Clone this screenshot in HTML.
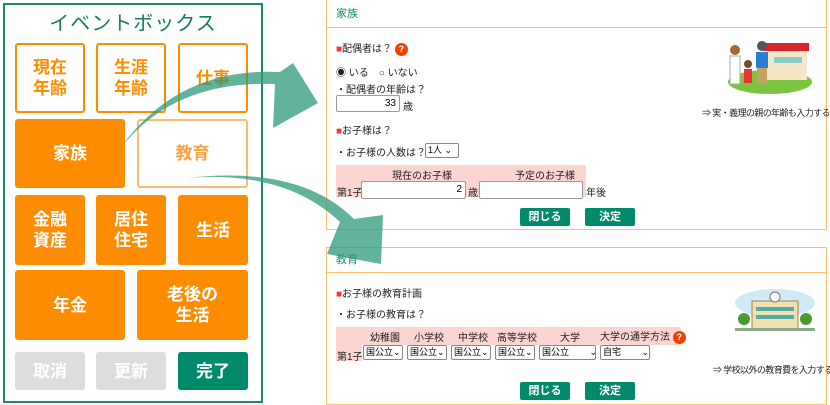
<!DOCTYPE html>
<html><head><meta charset="utf-8"><style>
*{margin:0;padding:0;box-sizing:border-box}
body{width:830px;height:405px;background:#fff;position:relative;overflow:hidden;font-family:"Liberation Sans","Noto Sans CJK JP",sans-serif}
.a{position:absolute}
.b{position:absolute;display:flex;align-items:center;justify-content:center;text-align:center;font-weight:bold;font-size:17px;line-height:21px;border-radius:3px}
.o{background:#fd8c00;color:#fff}
.w{background:#fff;border:2px solid #fd8c00;color:#fd8c00}
.g{background:#ddd;color:#fff}
.t{font-size:10px;color:#222;position:absolute;white-space:nowrap}
.in{position:absolute;border:1px solid #999;border-radius:2px;background:#fff;font-size:10px;text-align:right;padding-right:3px;line-height:15px}
.sel{position:absolute;border:1px solid #888;border-radius:2px;background:#fff;font-size:9px;line-height:13px;padding-left:2px;white-space:nowrap;overflow:hidden}
.btn{position:absolute;background:#00896b;color:#fff;font-size:11px;font-weight:bold;text-align:center;line-height:18px;border-radius:2px;width:50px;height:18px}
.sq{color:#f33}
.q{display:inline-block;width:13px;height:13px;border-radius:50%;background:#f04000;color:#fff;font-size:9px;text-align:center;line-height:13px;font-weight:bold;vertical-align:middle}
.sm{font-size:9px;letter-spacing:-0.6px}
</style></head><body>
<div class="a" style="left:3px;top:3px;width:260px;height:400px;border:2px solid #1f8a6a"></div>
<div class="a" style="left:3px;top:7px;width:260px;text-align:center;font-size:20px;color:#1a7a5e;letter-spacing:1px">イベントボックス</div>
<div class="b w" style="left:15px;top:43px;width:70px;height:70px">現在<br>年齢</div>
<div class="b w" style="left:96px;top:43px;width:70px;height:70px">生涯<br>年齢</div>
<div class="b w" style="left:178px;top:43px;width:70px;height:70px">仕事</div>
<div class="b o" style="left:15px;top:119px;width:110px;height:69px">家族</div>
<div class="b w" style="left:137px;top:119px;width:111px;height:69px;border-color:#fdba70;color:#fba040">教育</div>
<div class="b o" style="left:15px;top:195px;width:70px;height:70px">金融<br>資産</div>
<div class="b o" style="left:96px;top:195px;width:70px;height:70px">居住<br>住宅</div>
<div class="b o" style="left:178px;top:195px;width:70px;height:70px">生活</div>
<div class="b o" style="left:15px;top:270px;width:110px;height:70px">年金</div>
<div class="b o" style="left:137px;top:270px;width:111px;height:70px">老後の<br>生活</div>
<div class="b g" style="left:15px;top:352px;width:70px;height:38px">取消</div>
<div class="b g" style="left:96px;top:352px;width:70px;height:38px">更新</div>
<div class="b" style="left:178px;top:352px;width:70px;height:38px;background:#00896b;color:#fff">完了</div>

<!-- panel 1 -->
<div class="a" style="left:326px;top:-2px;width:501px;height:232px;border:1px solid #fdc070"></div>
<div class="a" style="left:326px;top:27px;width:501px;height:1px;background:#fdc070"></div>
<div class="t" style="left:336px;top:5px;color:#1a8a6a;font-size:11px">家族</div>
<div class="t" style="left:336px;top:40px"><span class="sq">■</span>配偶者は？ <span class="q">?</span></div>
<div class="t" style="left:336px;top:64px">◉ いる　○ いない</div>
<div class="t" style="left:336px;top:81px">・配偶者の年齢は？</div>
<div class="in" style="left:336px;top:95px;width:64px;height:17px">33</div>
<div class="t" style="left:403px;top:98px">歳</div>
<div class="t" style="left:336px;top:122px"><span class="sq">■</span>お子様は？</div>
<div class="t" style="left:336px;top:144px">・お子様の人数は？</div>
<div class="sel" style="left:425px;top:143px;width:34px;height:15px">1人 ⌄</div>
<div class="a" style="left:336px;top:165px;width:250px;height:32px;background:#fdd5d0"></div>
<div class="t" style="left:392px;top:167px">現在のお子様</div>
<div class="t" style="left:515px;top:167px">予定のお子様</div>
<div class="t" style="left:337px;top:184px">第1子</div>
<div class="in" style="left:361px;top:181px;width:105px;height:18px">2</div>
<div class="t" style="left:468px;top:184px">歳</div>
<div class="in" style="left:479px;top:181px;width:104px;height:18px"></div>
<div class="t" style="left:586px;top:184px">年後</div>
<div class="btn" style="left:520px;top:208px">閉じる</div>
<div class="btn" style="left:585px;top:208px">決定</div>
<svg class="a" style="left:700px;top:40px" width="115" height="55">
<ellipse cx="70" cy="42" rx="42" ry="12" fill="#7cc440"/>
<rect x="65" y="8" width="42" height="32" fill="#f6e6c8"/><rect x="63" y="3" width="46" height="8" fill="#d9242b"/>
<rect x="74" y="17" width="28" height="6" fill="#8cc"/>
<circle cx="35" cy="10" r="5" fill="#a86a30"/><rect x="30" y="16" width="10" height="28" fill="#fff" stroke="#aaa"/>
<circle cx="48" cy="24" r="4" fill="#7a4a20"/><rect x="44" y="29" width="8" height="14" fill="#e33"/>
<circle cx="62" cy="6" r="5" fill="#555"/><rect x="56" y="12" width="12" height="16" fill="#2a7ed6"/><rect x="57" y="28" width="10" height="16" fill="#c9a060"/>
</svg>
<div class="t sm" style="left:702px;top:106px">⇒ 実・義理の親の年齢も入力する</div>

<!-- panel 2 -->
<div class="a" style="left:326px;top:247px;width:501px;height:158px;border:1px solid #fdc070"></div>
<div class="a" style="left:326px;top:272px;width:501px;height:1px;background:#fdc070"></div>
<div class="t" style="left:336px;top:251px;color:#1a8a6a;font-size:11px">教育</div>
<div class="t" style="left:336px;top:285px"><span class="sq">■</span>お子様の教育計画</div>
<div class="t" style="left:336px;top:306px">・お子様の教育は？</div>
<div class="a" style="left:336px;top:327px;width:345px;height:18px;background:#fdd5d0"></div>
<div class="a" style="left:336px;top:345px;width:26px;height:16px;background:#fdd5d0"></div>
<div class="t" style="left:370px;top:329px">幼稚園</div>
<div class="t" style="left:414px;top:329px">小学校</div>
<div class="t" style="left:458px;top:329px">中学校</div>
<div class="t" style="left:497px;top:329px">高等学校</div>
<div class="t" style="left:560px;top:329px">大学</div>
<div class="t" style="left:600px;top:328px">大学の通学方法 <span class="q">?</span></div>
<div class="t" style="left:337px;top:348px">第1子</div>
<div class="sel" style="left:363px;top:345px;width:40px;height:15px">国公立⌄</div>
<div class="sel" style="left:407px;top:345px;width:40px;height:15px">国公立⌄</div>
<div class="sel" style="left:451px;top:345px;width:40px;height:15px">国公立⌄</div>
<div class="sel" style="left:495px;top:345px;width:40px;height:15px">国公立⌄</div>
<div class="sel" style="left:539px;top:345px;width:57px;height:15px">国公立　　 ⌄</div>
<div class="sel" style="left:600px;top:345px;width:50px;height:15px">自宅　　 ⌄</div>
<div class="t sm" style="left:713px;top:363px">⇒ 学校以外の教育費を入力する</div>
<div class="btn" style="left:520px;top:382px">閉じる</div>
<div class="btn" style="left:585px;top:382px">決定</div>
<svg class="a" style="left:730px;top:283px" width="90" height="55">
<ellipse cx="45" cy="20" rx="40" ry="14" fill="#cfe9f5"/>
<rect x="22" y="18" width="46" height="28" fill="#f0e0b0" stroke="#a08050"/>
<circle cx="45" cy="14" r="5" fill="#fff" stroke="#777"/>
<rect x="26" y="24" width="38" height="4" fill="#5aa"/><rect x="26" y="32" width="38" height="4" fill="#5aa"/>
<circle cx="14" cy="36" r="6" fill="#4a9a30"/><circle cx="76" cy="36" r="6" fill="#4a9a30"/>
<rect x="5" y="45" width="80" height="3" fill="#8a8"/>
</svg>

<!-- arrows -->
<svg class="a" style="left:0;top:0" width="830" height="405">
<path d="M117 153 Q170 80 275 84 L273 128 L318 103 L293 63 L280 72 Q175 67 117 153Z" fill="#2e9a7a" fill-opacity="0.75"/>
<path d="M187 178 Q285 170 340 222 L327 254 L381 264 L383 215 L354 219 Q300 165 187 178Z" fill="#2e9a7a" fill-opacity="0.75"/>
</svg>
</body></html>
